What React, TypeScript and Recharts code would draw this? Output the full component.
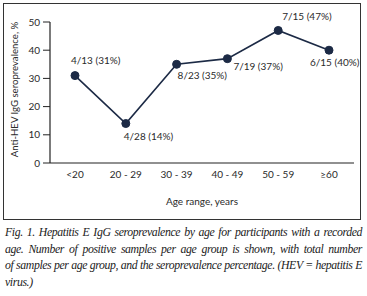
import { LineChart, Line, XAxis, YAxis, LabelList } from "recharts";

const ageGroups = ["<20", "20 - 29", "30 - 39", "40 - 49", "50 - 59", "≥60"];
const positives = [4, 4, 8, 7, 7, 6];
const totals = [13, 28, 23, 19, 15, 15];
const prevalence = [31, 14, 35, 37, 47, 40];
const yTicks = [0, 10, 20, 30, 40, 50];

// label placement relative to each point
const labelOffsets = [
  [-4, -14],
  [-2, 14],
  [1, 12],
  [6, 9],
  [4, -13],
  [-19, 13],
];

const data = ageGroups.map((age, i) => ({
  age,
  pct: prevalence[i],
  label: `${positives[i]}/${totals[i]} (${prevalence[i]}%)`,
}));

const ink = "#1c2a45";
const font = "Lato, sans-serif";

function PointLabel(props: any) {
  const { x, y, index } = props;
  const [dx, dy] = labelOffsets[index];
  return (
    <text x={x + dx} y={y + dy} dominantBaseline="middle" fontSize={10} fill="#2a2a2a" fontFamily={font}>
      {data[index].label}
    </text>
  );
}

function YLabel(props: any) {
  const { viewBox } = props;
  const cx = viewBox.x + 16;
  const cy = viewBox.y + viewBox.height / 2 - 3;
  return (
    <text x={cx} y={cy} transform={`rotate(-90, ${cx}, ${cy})`} textAnchor="middle" dominantBaseline="middle" fontSize={9.6} fill="#2a2a2a" fontFamily={font}>
      Anti-HEV IgG seroprevalence, %
    </text>
  );
}

const captionLines = [
  "Fig. 1. Hepatitis E IgG seroprevalence by age for participants with a recorded",
  "age. Number of positive samples per age group is shown, with total number",
  "of samples per age group, and the seroprevalence percentage. (HEV = hepatitis E",
  "virus.)",
];

export default function App() {
  return (
    <div style={{ position: "absolute", left: 0, top: 0, width: 367, height: 296, background: "#fff" }}>
      <div style={{ position: "absolute", left: 3, top: 3, width: 358, height: 217, border: "1.5px solid #333", boxSizing: "border-box" }} />
      <div style={{ position: "absolute", left: 0, top: 0 }}>
        <LineChart width={367} height={222} data={data} margin={{ top: 22, right: 13, bottom: 14, left: 0 }}>
          <XAxis
            dataKey="age"
            tickLine={false}
            padding={{ left: 25, right: 25 }}
            axisLine={{ stroke: "#222", strokeWidth: 1.2 }}
            tick={{ fontSize: 10, fill: "#2a2a2a", fontFamily: font }}
            height={45}
            label={{ value: "Age range, years", position: "insideBottom", offset: 3, fontSize: 10, fill: "#2a2a2a", fontFamily: font }}
          />
          <YAxis
            width={50}
            domain={[0, 50]}
            ticks={yTicks}
            tickSize={7}
            tickMargin={3}
            tickLine={{ stroke: "#222" }}
            axisLine={{ stroke: "#222", strokeWidth: 1.2 }}
            tick={{ fontSize: 10, fill: "#2a2a2a", fontFamily: font }}
            label={<YLabel />}
          />
          <Line
            dataKey="pct"
            stroke={ink}
            strokeWidth={1.6}
            dot={{ r: 4, fill: ink, stroke: ink, strokeWidth: 1 }}
            isAnimationActive={false}
          >
            <LabelList dataKey="pct" content={<PointLabel />} />
          </Line>
        </LineChart>
      </div>
      <div
        style={{
          position: "absolute",
          left: 5,
          top: 224,
          width: 357,
          fontFamily: "'Liberation Serif', serif",
          fontStyle: "italic",
          fontSize: 11.8,
          letterSpacing: "-0.4px",
          lineHeight: "16.5px",
          color: "#222",
        }}
      >
        {captionLines.map((line, i) => (
          <div
            key={i}
            style={{
              textAlign: "justify",
              textAlignLast: i < captionLines.length - 1 ? "justify" : "left",
              whiteSpace: "nowrap",
            }}
          >
            {line}
          </div>
        ))}
      </div>
    </div>
  );
}
